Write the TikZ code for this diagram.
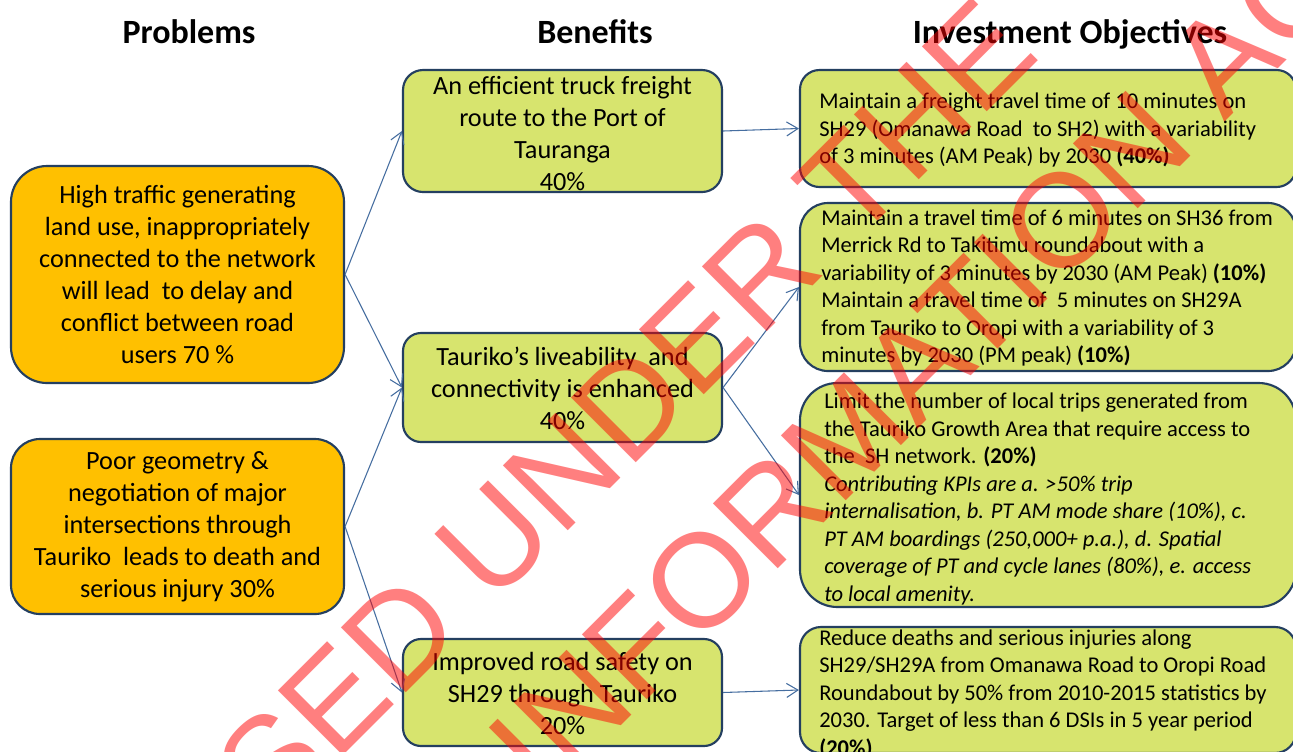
\documentclass[tikz,border=0pt]{standalone}
\usepackage{fontspec}
\setmainfont{Carlito}
\newfontfamily\stampfont{Liberation Sans}
\usetikzlibrary{arrows.meta}
\definecolor{probfill}{RGB}{255,192,0}
\definecolor{benfill}{RGB}{215,228,110}
\definecolor{boxline}{RGB}{36,63,96}
\definecolor{linkcol}{RGB}{70,110,160}
\tikzset{
  box/.style={draw=boxline, line width=1.6pt, inner sep=0pt},
  probbox/.style={box, fill=probfill, minimum width=249.75pt},
  benbox/.style={box, fill=benfill, minimum width=239.25pt},
  objbox/.style={box, fill=benfill, minimum width=372pt},
  heading/.style={font=\bfseries\fontsize{25.5pt}{30pt}\selectfont, anchor=base, inner sep=0pt},
  bigtext/.style={font=\fontsize{19.7pt}{24pt}\selectfont, align=center, inner sep=0pt},
  objtext/.style={font=\fontsize{16.9pt}{20.6pt}\selectfont, align=left, anchor=west, inner sep=0pt},
  link/.style={draw=linkcol, line width=0.8pt, -{Straight Barb[length=8.5pt,width=10.5pt,line width=0.8pt]}},
  stamp/.style={font=\stampfont\fontsize{100pt}{100pt}\selectfont, text=red,
                rotate=45, anchor=base, inner sep=0pt}
}
\begin{document}
\begin{tikzpicture}[x=0.75pt, y=-0.75pt]
\useasboundingbox (0,0) rectangle (1293,751);
\fill[white] (0,0) rectangle (1293,751);

% column headings
\node[heading] (hprob) at (189,43) {Problems};
\node[heading] (hben)  at (595,43) {Benefits};
\node[heading] (hobj)  at (1070,43) {Investment Objectives};

% problems
\node[probbox, minimum height=162.75pt, rounded corners=27pt] (p1) at (177.5,274.5) {};
\node[bigtext] (p1t) at (p1.center) {High traffic generating\\land use, inappropriately\\connected to the network\\will lead~ to delay and\\conflict between road\\users 70 \%};
\node[probbox, minimum height=131.25pt, rounded corners=21.75pt] (p2) at (177.5,526.5) {};
\node[bigtext] (p2t) at (p2.center) {Poor geometry \&\\negotiation of major\\intersections through\\Tauriko~ leads to death and\\serious injury 30\%};

% benefits
\node[benbox, minimum height=91.5pt, rounded corners=15pt] (b1) at (562.5,131) {};
\node[bigtext] (b1t) at (562.5,133) {An efficient truck freight\\route to the Port of\\Tauranga\\40\%};
\node[benbox, minimum height=81.75pt, rounded corners=13.5pt] (b2) at (562.5,387.5) {};
\node[bigtext] (b2t) at (562.5,388.5) {Tauriko’s liveability~ and\\connectivity is enhanced\\40\%};
\node[benbox, minimum height=80.25pt, rounded corners=13.5pt] (b3) at (562.5,692.5) {};
\node[bigtext] (b3t) at (562.5,693.5) {Improved road safety on\\SH29 through Tauriko\\20\%};

% investment objectives
\node[objbox, minimum height=87.75pt, rounded corners=14.6pt] (o1) at (1048,128.5) {};
\node[objtext] (o1t) at (819,130) {Maintain a freight travel time of 10 minutes on\\SH29 (Omanawa Road~ to SH2) with a variability\\of 3 minutes (AM Peak) by 2030 \textbf{(40\%)}};
\node[objbox, minimum height=126pt, rounded corners=21pt] (o2) at (1048,287) {};
\node[objtext] (o2t) at (821,288) {Maintain a travel time of 6 minutes on SH36 from\\Merrick Rd to Takitimu roundabout with a\\variability of 3 minutes by 2030 (AM Peak) \textbf{(10\%)}\\Maintain a travel time of~ 5 minutes on SH29A\\from Tauriko to Oropi with a variability of 3\\minutes by 2030 (PM peak) \textbf{(10\%)}};
\node[objbox, minimum height=168pt, rounded corners=28pt] (o3) at (1048,495) {};
\node[objtext] (o3t) at (824,499) {Limit the number of local trips generated from\\the Tauriko Growth Area that require access to\\the~ SH network. \textbf{(20\%)}\\\textit{Contributing KPIs are a. >50\% trip}\\\textit{internalisation, b. PT AM mode share (10\%), c.}\\\textit{PT AM boardings (250,000+ p.a.), d. Spatial}\\\textit{coverage of PT and cycle lanes (80\%), e. access}\\\textit{to local amenity.}};
\node[objbox, minimum height=94.5pt, rounded corners=15.75pt] (o4) at (1048,690) {};
\node[objtext] (o4t) at (819,694) {Reduce deaths and serious injuries along\\SH29/SH29A from Omanawa Road to Oropi Road\\Roundabout by 50\% from 2010-2015 statistics by\\2030. Target of less than 6 DSIs in 5 year period\\\textbf{(20\%)}};

% connectors
\draw[link] (p1.east) -- (b1.west);
\draw[link] (p1.east) -- (b2.west);
\draw[link] (p2.east) -- (b2.west);
\draw[link] (p2.east) -- (b3.west);
\draw[link] (b1.east) -- (o1.west);
\draw[link] (b2.east) -- (o2.west);
\draw[link] (b2.east) -- (o3.west);
\draw[link] (b3.east) -- (o4.west);

% release stamp across the sheet, half transparent
\begin{scope}[transparency group, opacity=0.5]
  \clip (0,0) rectangle (1293,751);
  \node[stamp] (stamp1) at (503,596) {RELEASED UNDER THE};
  \node[stamp] (stamp2) at (754,593) {OFFICIAL INFORMATION ACT};
\end{scope}
\end{tikzpicture}
\end{document}
